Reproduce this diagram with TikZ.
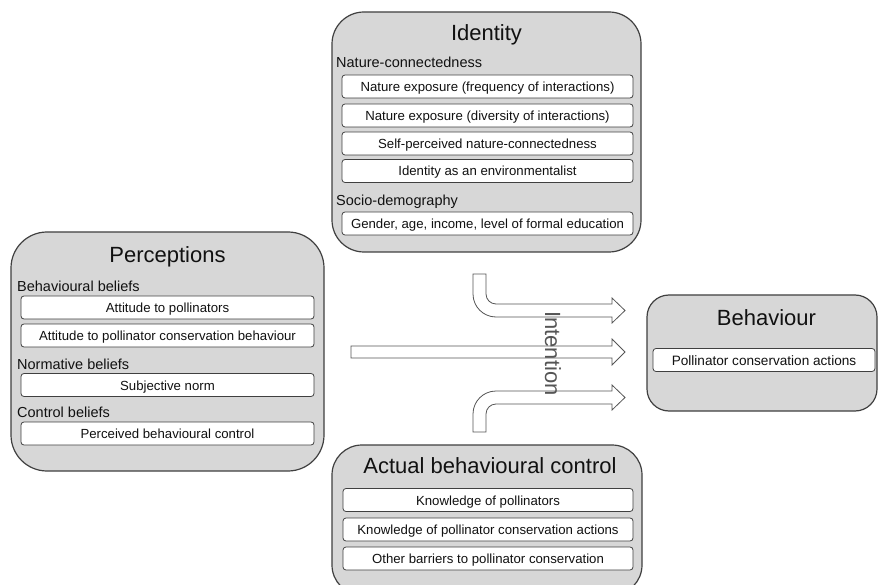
\documentclass[tikz,border=0pt]{standalone}
\usepackage{fontspec}
\setmainfont{Liberation Sans}
\definecolor{boxfill}{HTML}{D7D7D7}
\definecolor{boxline}{HTML}{404040}
\definecolor{txt}{HTML}{111111}
\definecolor{arrline}{HTML}{555555}
\begin{document}
\begin{tikzpicture}[x=1pt,y=-1pt,
  bigbox/.style={draw=boxline, fill=boxfill, line width=1.2pt, inner sep=0pt},
  subbox/.style={draw=boxline, fill=white, line width=0.8pt, rounded corners=3pt,
    minimum height=23pt, inner sep=0pt, text height=10.5pt, text depth=0.5pt,
    font=\fontsize{13.2}{15}\selectfont, text=txt},
  titletxt/.style={anchor=base, inner sep=0pt, font=\fontsize{22}{26}\selectfont, text=txt},
  headtxt/.style={anchor=base west, inner sep=0pt, font=\fontsize{14.5}{17}\selectfont, text=txt},
  fatarrow/.style={draw=arrline, line width=0.8pt, fill=white, line join=miter}]
\clip (0,0) rectangle (878,585);
\useasboundingbox (0,0) rectangle (878,585);
\fill[white] (0,0) rectangle (878,585);

% Identity
\node[bigbox, rounded corners=32pt, minimum width=309pt, minimum height=240pt] (identity) at (486.5,132) {};
\node[titletxt] (identityT) at (486.5,41) {Identity};
\node[headtxt] (natcon) at (336,68) {Nature-connectedness};
\node[subbox, minimum width=291pt] (i1) at (487.5,86.5) {Nature exposure (frequency of interactions)};
\node[subbox, minimum width=291pt] (i2) at (487.5,115.5) {Nature exposure (diversity of interactions)};
\node[subbox, minimum width=291pt] (i3) at (487.5,143.5) {Self-perceived nature-connectedness};
\node[subbox, minimum width=291pt] (i4) at (487.5,171) {Identity as an environmentalist};
\node[headtxt] (sociod) at (336,205.5) {Socio-demography};
\node[subbox, minimum width=291pt] (i5) at (487.5,223.5) {Gender, age, income, level of formal education};

% Perceptions
\node[bigbox, rounded corners=36pt, minimum width=313pt, minimum height=239pt] (percep) at (167.5,351.5) {};
\node[titletxt] (percepT) at (167.5,262.5) {Perceptions};
\node[headtxt] (behbel) at (17,291) {Behavioural beliefs};
\node[subbox, minimum width=293pt] (p1) at (167.5,307.5) {Attitude to pollinators};
\node[subbox, minimum width=293pt] (p2) at (167.5,335.5) {Attitude to pollinator conservation behaviour};
\node[headtxt] (normbel) at (17,369) {Normative beliefs};
\node[subbox, minimum width=293pt] (p3) at (167.5,385) {Subjective norm};
\node[headtxt] (ctrlbel) at (17,417.7) {Control beliefs};
\node[subbox, minimum width=293pt] (p4) at (167.5,433.5) {Perceived behavioural control};

% Behaviour
\node[bigbox, rounded corners=22pt, minimum width=230pt, minimum height=116pt] (behav) at (762,353) {};
\node[titletxt] (behavT) at (766.5,326) {Behaviour};
\node[subbox, minimum width=222pt, font=\fontsize{13.6}{15}\selectfont] (b1) at (764,360) {Pollinator conservation actions};

% Actual behavioural control
\node[bigbox, rounded corners=30pt, minimum width=310pt, minimum height=150pt] (actual) at (487,520) {};
\node[titletxt] (actualT) at (490,473) {Actual behavioural control};
\node[subbox, minimum width=290pt] (a1) at (488,500) {Knowledge of pollinators};
\node[subbox, minimum width=290pt] (a2) at (488,529.5) {Knowledge of pollinator conservation actions};
\node[subbox, minimum width=290pt] (a3) at (488,558.5) {Other barriers to pollinator conservation};

% Intention arrows
\draw[fatarrow] (473,274) -- (486,274) -- (486,294)
  .. controls (486,299.5) and (490.5,304) .. (496,304)
  -- (612,304) -- (612,298) -- (625,310.5) -- (612,323) -- (612,317) -- (496,317)
  .. controls (483.3,317) and (473,306.7) .. (473,294) -- cycle;
\draw[fatarrow] (351,346) -- (612,346) -- (612,339) -- (625,352) -- (612,365) -- (612,358) -- (351,358) -- cycle;
\draw[fatarrow] (473,432) -- (486,432) -- (486,414)
  .. controls (486,408.5) and (490.5,404) .. (496,404)
  -- (612,404) -- (612,410) -- (625,397.5) -- (612,385) -- (612,391) -- (496,391)
  .. controls (483.3,391) and (473,401.3) .. (473,414) -- cycle;
\node[rotate=-90, anchor=base, inner sep=0pt, font=\fontsize{22}{26}\selectfont, text=arrline] (intention) at (545,353.5) {Intention};
\end{tikzpicture}
\end{document}
